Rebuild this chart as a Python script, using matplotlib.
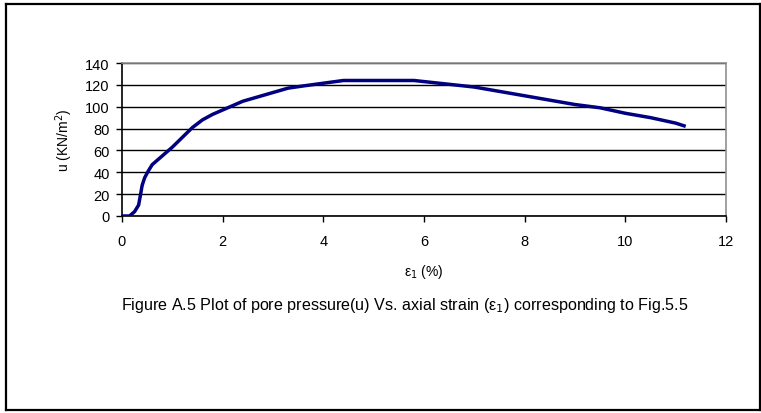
import matplotlib
matplotlib.use("Agg")
import matplotlib.pyplot as plt
from matplotlib.lines import Line2D

plt.rcParams['font.family'] = ['Liberation Sans', 'DejaVu Sans']

strain = [0, 0.15, 0.25, 0.33, 0.37, 0.40, 0.45, 0.52, 0.6, 0.75, 0.9, 1.0, 1.2, 1.4,
          1.6, 1.8, 2.0, 2.2, 2.4, 2.7, 3.0, 3.3, 3.6, 4.0, 4.4, 5.0, 5.5, 5.8, 6.2,
          6.6, 7.0, 7.5, 8.0, 8.5, 9.0, 9.5, 10.0, 10.5, 11.0, 11.2]
pore = [0, 0, 4, 10, 20, 28, 35, 41, 47, 53, 59, 63, 72, 81,
        88, 93, 97, 101, 105, 109, 113, 117, 119, 121.5, 124, 124, 124, 124, 122,
        120, 118, 114, 110, 106, 102, 99, 94, 90, 85, 82]
xticks = [0, 2, 4, 6, 8, 10, 12]
yticks = [0, 20, 40, 60, 80, 100, 120, 140]

W, H = 761, 414
fig = plt.figure(figsize=(W / 100, H / 100), dpi=100)

# outer border
def px(x, y):
    return x / W, 1 - y / H
for (x0, y0), (x1, y1) in [((6, 5), (760, 5)), ((6, 5), (6, 411)),
                           ((6, 411), (760, 411)), ((760, 5), (760, 411))]:
    a, b = px(x0, y0)
    c, d = px(x1, y1)
    fig.add_artist(Line2D([a, c], [b, d], color='black', lw=1.6,
                          transform=fig.transFigure))

ax = fig.add_axes([122 / W, 1 - 217 / H, (726 - 122) / W, (217 - 64) / H])
ax.plot(strain, pore, color='#000080', lw=2.5, solid_capstyle='butt', zorder=3)
ax.set_xlim(0, 12)
ax.set_ylim(0, 140)
ax.set_xticks(xticks)
ax.set_yticks(yticks)
ax.yaxis.grid(True, color='black', lw=1.0)
ax.set_axisbelow(True)
for s in ['top', 'right']:
    ax.spines[s].set_color('#909090')
    ax.spines[s].set_linewidth(1.2)
for s in ['left', 'bottom']:
    ax.spines[s].set_color('black')
    ax.spines[s].set_linewidth(1.2)
ax.tick_params(axis='both', direction='out', length=4, width=1, labelsize=10.5)
ax.tick_params(axis='x', pad=9)
ax.tick_params(axis='y', pad=5)

ax.set_xlabel('ε$_1$ (%)', fontsize=10, labelpad=10)
ax.set_ylabel('u (KN/m$^2$)', fontsize=10, labelpad=7)

fig.text(405 / W, 1 - 306 / H,
         'Figure A.5 Plot of pore pressure(u) Vs. axial strain (ε$_1$) corresponding to Fig.5.5',
         ha='center', va='center', fontsize=11.6)

fig.savefig('out.png', dpi=100)
